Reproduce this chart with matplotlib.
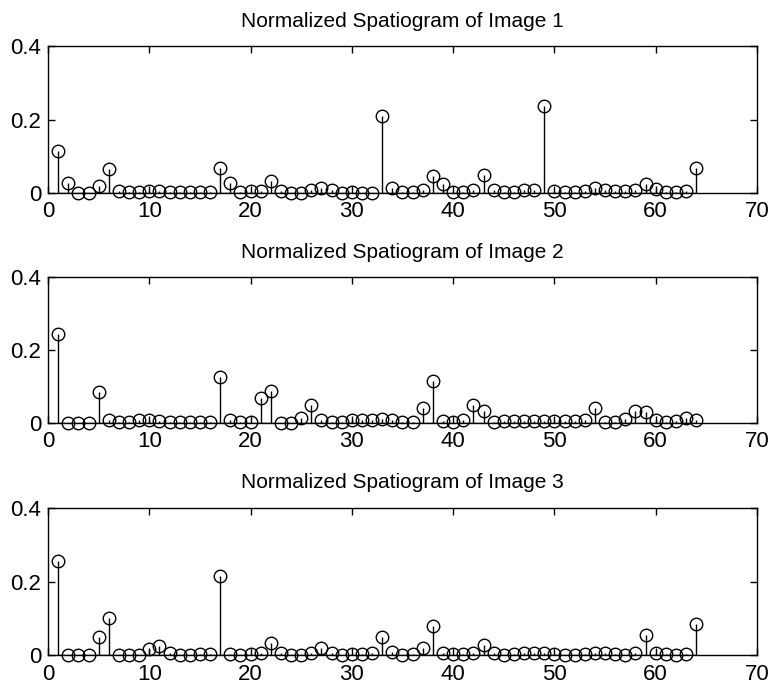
import numpy as np
import matplotlib
matplotlib.use("Agg")
import matplotlib.pyplot as plt

plt.rcParams['font.family'] = ['Liberation Sans', 'DejaVu Sans']

# Bin values (bins 1..64)
bins = np.arange(1, 65)

image1 = [0.114, 0.027, 0.0, 0.0, 0.020, 0.064, 0.005, 0.002, 0.002, 0.005,
          0.004, 0.002, 0.002, 0.002, 0.002, 0.002, 0.069, 0.027, 0.002, 0.005,
          0.006, 0.032, 0.005, 0.0, 0.0, 0.007, 0.014, 0.007, 0.0, 0.003,
          0.0, 0.0, 0.209, 0.014, 0.003, 0.003, 0.008, 0.046, 0.023, 0.003,
          0.003, 0.007, 0.048, 0.009, 0.003, 0.003, 0.009, 0.007, 0.238, 0.005,
          0.002, 0.003, 0.005, 0.014, 0.008, 0.005, 0.005, 0.007, 0.025, 0.012,
          0.003, 0.003, 0.005, 0.068]

image2 = [0.244, 0.0, 0.0, 0.0, 0.084, 0.007, 0.003, 0.003, 0.007, 0.009,
          0.005, 0.002, 0.002, 0.002, 0.002, 0.002, 0.125, 0.007, 0.002, 0.004,
          0.068, 0.089, 0.0, 0.0, 0.014, 0.050, 0.009, 0.003, 0.003, 0.008,
          0.008, 0.007, 0.012, 0.009, 0.002, 0.003, 0.041, 0.114, 0.005, 0.004,
          0.009, 0.050, 0.032, 0.004, 0.005, 0.005, 0.005, 0.005, 0.005, 0.005,
          0.005, 0.005, 0.007, 0.041, 0.002, 0.002, 0.012, 0.032, 0.029, 0.009,
          0.003, 0.005, 0.013, 0.009]

image3 = [0.255, 0.0, 0.0, 0.0, 0.050, 0.100, 0.002, 0.002, 0.002, 0.016,
          0.025, 0.005, 0.0, 0.002, 0.004, 0.004, 0.214, 0.004, 0.002, 0.003,
          0.007, 0.032, 0.006, 0.002, 0.002, 0.006, 0.020, 0.006, 0.002, 0.003,
          0.004, 0.006, 0.050, 0.008, 0.002, 0.003, 0.020, 0.080, 0.006, 0.003,
          0.003, 0.006, 0.027, 0.006, 0.002, 0.003, 0.006, 0.006, 0.005, 0.003,
          0.002, 0.002, 0.003, 0.006, 0.006, 0.003, 0.002, 0.006, 0.055, 0.006,
          0.004, 0.002, 0.003, 0.086]

series = [image1, image2, image3]
titles = ['Normalized Spatiogram of Image 1',
          'Normalized Spatiogram of Image 2',
          'Normalized Spatiogram of Image 3']

xticks = [0, 10, 20, 30, 40, 50, 60, 70]
yticks = [0, 0.2, 0.4]
yticklabels = ['0', '0.2', '0.4']

fig = plt.figure(figsize=(7.69, 6.89), dpi=100)

# axes boxes in figure fractions: left, bottom, width, height
boxes = [[0.0624, 0.720, 0.922, 0.213],
         [0.0624, 0.386, 0.922, 0.212],
         [0.0624, 0.049, 0.922, 0.214]]

for box, vals, title in zip(boxes, series, titles):
    ax = fig.add_axes(box)
    markerline, stemlines, baseline = ax.stem(bins, vals, linefmt='k-', markerfmt='ko', basefmt='k-')
    markerline.set_markerfacecolor('none')
    markerline.set_markeredgecolor('black')
    markerline.set_markersize(9)
    markerline.set_markeredgewidth(1.0)
    stemlines.set_linewidth(1.0)
    baseline.set_linewidth(1.0)
    markerline.set_clip_on(False)

    ax.set_xlim(0, 70)
    ax.set_ylim(0, 0.4)
    ax.set_xticks(xticks)
    ax.set_yticks(yticks)
    ax.set_yticklabels(yticklabels)
    ax.tick_params(direction='in', length=5, width=1, top=True, right=True,
                   labelsize=16)
    ax.tick_params(axis='x', pad=6)
    ax.tick_params(axis='y', pad=5)
    for sp in ax.spines.values():
        sp.set_linewidth(1.0)
    ax.set_title(title, fontsize=15, pad=14)

fig.savefig('out.png', dpi=100)
